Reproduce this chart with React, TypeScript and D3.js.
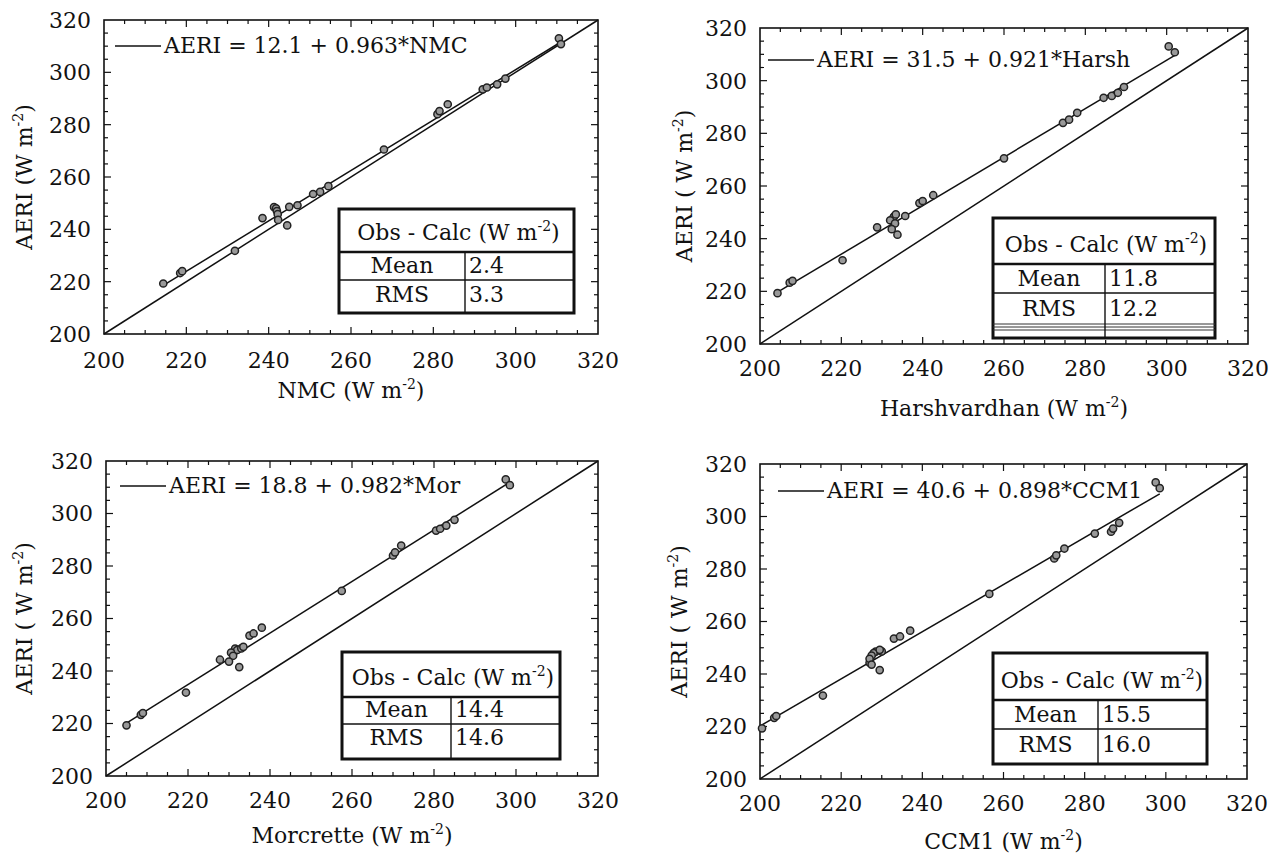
import React from 'react';
import * as d3 from 'd3';

// AERI observed downwelling flux, shared by all four panels
const aeri = [219.3, 223.3, 224.0, 231.8, 244.3, 248.5, 248.0, 247.0, 245.8, 243.6, 241.5, 248.6, 249.2, 253.5, 254.3, 256.5, 270.5, 284.0, 285.2, 287.8, 293.5, 294.2, 295.4, 297.6, 313.0, 310.8];
// model values for the same cases
const nmc = [214.4, 218.5, 219.0, 231.8, 238.5, 241.3, 241.8, 242.0, 242.2, 242.3, 244.5, 245.0, 247.0, 250.8, 252.5, 254.5, 268.0, 281.0, 281.5, 283.5, 292.0, 293.0, 295.5, 297.5, 310.5, 311.0];
const harsh = [204.3, 207.3, 208.0, 220.3, 228.8, 233.0, 232.8, 232.0, 233.2, 232.4, 233.8, 235.7, 233.4, 239.2, 240.0, 242.6, 260.0, 274.5, 276.0, 278.0, 284.5, 286.5, 288.0, 289.5, 300.5, 302.0];
const mor = [205.0, 208.5, 209.0, 219.5, 227.8, 231.5, 232.0, 230.5, 231.0, 230.0, 232.5, 233.0, 233.5, 235.0, 236.0, 238.0, 257.5, 270.0, 270.5, 272.0, 280.5, 281.5, 283.0, 285.0, 297.5, 298.5];
const ccm1 = [200.5, 203.5, 204.0, 215.5, 227.0, 228.5, 228.0, 227.5, 227.0, 227.5, 229.5, 230.0, 229.5, 233.0, 234.5, 237.0, 256.5, 272.5, 273.0, 275.0, 282.5, 286.5, 287.0, 288.5, 297.5, 298.5];

const ticks = [200, 220, 240, 260, 280, 300, 320];
const fits = [[12.1, 0.963], [31.5, 0.921], [18.8, 0.982], [40.6, 0.898]];
const fitLabels = ['AERI = 12.1 + 0.963*NMC', 'AERI = 31.5 + 0.921*Harsh', 'AERI = 18.8 + 0.982*Mor', 'AERI = 40.6 + 0.898*CCM1'];
const means = ['2.4', '11.8', '14.4', '15.5'];
const rmss = ['3.3', '12.2', '14.6', '16.0'];
const xNames = ['NMC (W m', 'Harshvardhan (W m', 'Morcrette  (W m', 'CCM1 (W m'];
const yNames = ['AERI (W m', 'AERI ( W m', 'AERI ( W m', 'AERI ( W m'];

const FONT = 'DejaVu Serif';

const layout = [
  {l: 104, r: 598, t: 20, b: 334, tickY: 368, titleY: 398, yTitleX: 32, lgY: 46, lgX: 115, tb: {x0: 339, x1: 574, y0: 209, y1: 313, hd: 252, rd: 280, cd: 465, extra: false}},
  {l: 760, r: 1248, t: 28, b: 344, tickY: 376, titleY: 416, yTitleX: 692, lgY: 60, lgX: 768, tb: {x0: 993, x1: 1215, y0: 218, y1: 338, hd: 264, rd: 293, cd: 1105, extra: true}},
  {l: 106, r: 598, t: 461, b: 776, tickY: 808, titleY: 843, yTitleX: 32, lgY: 486, lgX: 120, tb: {x0: 342, x1: 560, y0: 652, y1: 759, hd: 697, rd: 724, cd: 451, extra: false}},
  {l: 760, r: 1247, t: 464, b: 779, tickY: 811, titleY: 849, yTitleX: 687, lgY: 491, lgX: 778, tb: {x0: 993, x1: 1207, y0: 653, y1: 764, hd: 700, rd: 729, cd: 1098, extra: false}},
];

const Sup = ({pre}: {pre: string}) => (
  <>
    {pre}
    <tspan dy={-9} fontSize={14}>-2</tspan>
    <tspan dy={9}>)</tspan>
  </>
);

function Panel({i}: {i: number}) {
  const L = layout[i];
  const xs = [nmc, harsh, mor, ccm1][i];
  const x = d3.scaleLinear().domain([200, 320]).range([L.l, L.r]);
  const y = d3.scaleLinear().domain([200, 320]).range([L.b, L.t]);
  const [a, b] = fits[i];
  const ext = d3.extent(xs) as [number, number];
  const minor = d3.range(205, 320, 5);
  const tb = L.tb;
  const rowH = tb.rd - tb.hd;
  return (
    <g>
      {/* ticks, inward on all sides */}
      {minor.map((v) => {
        const len = v % 20 === 0 ? 7 : 4;
        return (
          <g key={v} stroke="#111" strokeWidth={1.2}>
            <line x1={x(v)} x2={x(v)} y1={L.b} y2={L.b - len} />
            <line x1={x(v)} x2={x(v)} y1={L.t} y2={L.t + len} />
            <line x1={L.l} x2={L.l + len} y1={y(v)} y2={y(v)} />
            <line x1={L.r} x2={L.r - len} y1={y(v)} y2={y(v)} />
          </g>
        );
      })}
      <rect x={L.l} y={L.t} width={L.r - L.l} height={L.b - L.t} fill="none" stroke="#111" strokeWidth={1.6} />
      {ticks.map((v) => (
        <text key={'x' + v} x={x(v)} y={L.tickY} textAnchor="middle" fontSize={22}>{v}</text>
      ))}
      {ticks.map((v) => (
        <text key={'y' + v} x={L.l - 13} y={y(v)} dy="0.36em" textAnchor="end" fontSize={22}>{v}</text>
      ))}
      <text x={(L.l + L.r) / 2} y={L.titleY} textAnchor="middle" fontSize={22}><Sup pre={xNames[i]} /></text>
      <text transform={`translate(${L.yTitleX},${(L.t + L.b) / 2}) rotate(-90)`} textAnchor="middle" fontSize={22}><Sup pre={yNames[i]} /></text>

      {/* one-to-one line and regression fit */}
      <line x1={x(200)} y1={y(200)} x2={x(320)} y2={y(320)} stroke="#111" strokeWidth={1.5} />
      <line x1={x(ext[0])} y1={y(a + b * ext[0])} x2={x(ext[1])} y2={y(a + b * ext[1])} stroke="#111" strokeWidth={1.5} />
      {xs.map((v, k) => (
        <circle key={k} cx={x(v)} cy={y(aeri[k])} r={3.6} fill="#999" stroke="#222" strokeWidth={1.5} />
      ))}

      {/* legend */}
      <line x1={L.lgX} x2={L.lgX + 46} y1={L.lgY} y2={L.lgY} stroke="#111" strokeWidth={1.3} />
      <text x={L.lgX + 49} y={L.lgY + 7} fontSize={22}>{fitLabels[i]}</text>

      {/* stats table */}
      <rect x={tb.x0} y={tb.y0} width={tb.x1 - tb.x0} height={tb.y1 - tb.y0} fill="#fff" stroke="#111" strokeWidth={3} />
      <line x1={tb.x0} x2={tb.x1} y1={tb.hd} y2={tb.hd} stroke="#111" strokeWidth={2.5} />
      <line x1={tb.x0} x2={tb.x1} y1={tb.rd} y2={tb.rd} stroke="#111" strokeWidth={1.4} />
      {tb.extra && (
        <g stroke="#333" strokeWidth={1}>
          <line x1={tb.x0} x2={tb.x1} y1={tb.rd + rowH + 2} y2={tb.rd + rowH + 2} />
          <line x1={tb.x0} x2={tb.x1} y1={tb.rd + rowH + 5} y2={tb.rd + rowH + 5} />
          <line x1={tb.x0} x2={tb.x1} y1={tb.rd + rowH + 8} y2={tb.rd + rowH + 8} />
        </g>
      )}
      <line x1={tb.cd} x2={tb.cd} y1={tb.hd} y2={tb.y1} stroke="#111" strokeWidth={1.4} />
      <text x={(tb.x0 + tb.x1) / 2 + 2} y={tb.hd - 12} textAnchor="middle" fontSize={22}><Sup pre="Obs - Calc (W m" /></text>
      <text x={(tb.x0 + tb.cd) / 2} y={tb.rd - 7} textAnchor="middle" fontSize={22}>Mean</text>
      <text x={tb.cd + 4} y={tb.rd - 7} fontSize={22}>{means[i]}</text>
      <text x={(tb.x0 + tb.cd) / 2} y={tb.rd + rowH - 6} textAnchor="middle" fontSize={22}>RMS</text>
      <text x={tb.cd + 4} y={tb.rd + rowH - 6} fontSize={22}>{rmss[i]}</text>
    </g>
  );
}

export default function App() {
  return (
    <svg width={1280} height={859} style={{position: 'absolute', left: 0, top: 0, background: '#fff'}} fontFamily={FONT} fill="#111">
      {[0, 1, 2, 3].map((i) => <Panel key={i} i={i} />)}
    </svg>
  );
}
